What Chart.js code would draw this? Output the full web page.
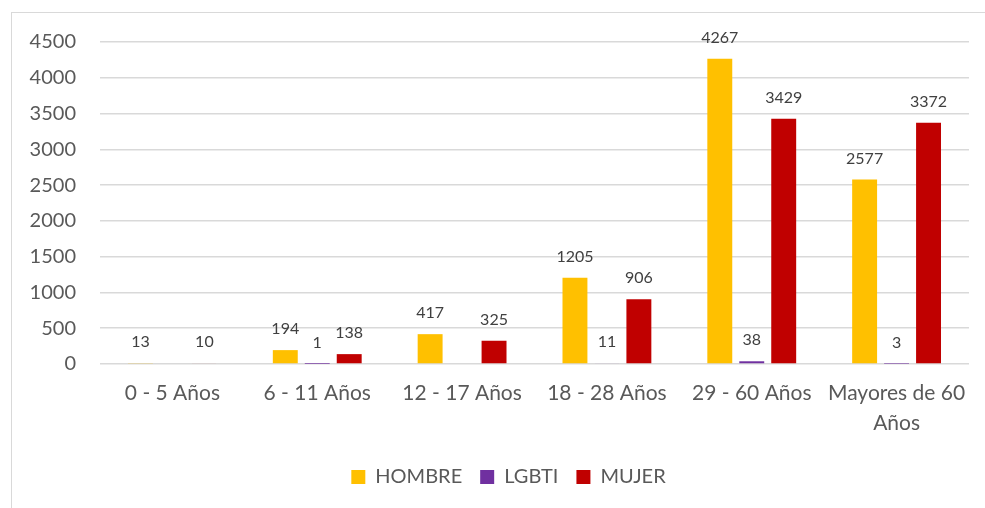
<!DOCTYPE html>
<html lang="es">
<head>
<meta charset="utf-8">
<title>Grupos de edad</title>
<script src="https://cdn.jsdelivr.net/npm/chart.js@4"></script>
<style>
body { margin: 0; background: #fff; }
#frame { position: absolute; left: 11px; top: 12px; width: 1000px; height: 520px; border: 1px solid #d9d9d9; }
#wrap { position: absolute; left: 0; top: 0; width: 985px; height: 508px; }
</style>
</head>
<body>
<div id="frame"></div>
<div id="wrap"><canvas id="chart"></canvas></div>
<script>
const categories = ['0 - 5 Años', '6 - 11 Años', '12 - 17 Años', '18 - 28 Años', '29 - 60 Años', ['Mayores de 60', 'Años']];
const hombre = [13, 194, 417, 1205, 4267, 2577];
const lgbti = [null, 1, null, 11, 38, 3];
const mujer = [10, 138, 325, 906, 3429, 3372];
const yTicks = [0, 500, 1000, 1500, 2000, 2500, 3000, 3500, 4000, 4500];

const FONT = 'Lato, "Open Sans", sans-serif';

// draw the value above each bar, Excel style
const valueLabels = {
  id: 'valueLabels',
  afterDatasetsDraw(chart) {
    const ctx = chart.ctx;
    ctx.save();
    ctx.font = '16px ' + FONT;
    ctx.fillStyle = '#404040';
    ctx.textAlign = 'center';
    ctx.textBaseline = 'bottom';
    chart.data.datasets.forEach((ds, di) => {
      const meta = chart.getDatasetMeta(di);
      meta.data.forEach((bar, i) => {
        const v = ds.data[i];
        if (v == null) return;
        ctx.fillText(String(v), bar.x, bar.y - 13);
      });
    });
    ctx.restore();
  }
};

// the legend sits a bit right of the canvas centre
const legendShift = {
  id: 'legendShift',
  afterLayout(chart) {
    if (!chart.legend) return;
    chart.legend.left += 24;
    chart.legend.right += 24;
  }
};

new Chart(document.getElementById('chart'), {
  type: 'bar',
  data: {
    labels: categories,
    datasets: [
      { label: 'HOMBRE', data: hombre, backgroundColor: '#FFC000' },
      { label: 'LGBTI', data: lgbti, backgroundColor: '#7030A0' },
      { label: 'MUJER', data: mujer, backgroundColor: '#C00000' }
    ]
  },
  options: {
    responsive: true,
    maintainAspectRatio: false,
    animation: false,
    categoryPercentage: 0.662,
    barPercentage: 0.78,
    layout: { padding: { top: 42, right: 16, bottom: 11, left: 0 } },
    plugins: {
      legend: {
        position: 'bottom',
        labels: {
          boxWidth: 14, boxHeight: 14, padding: 18,
          color: '#595959',
          font: { family: FONT, size: 20 }
        }
      },
      tooltip: { enabled: false }
    },
    scales: {
      x: {
        afterFit(scale) { scale.height = 85; },
        grid: { display: false, drawTicks: false },
        border: { display: false },
        ticks: {
          color: '#595959', padding: 14,
          font: { family: FONT, size: 21, lineHeight: 1.45 },
          maxRotation: 0, autoSkip: false
        }
      },
      y: {
        min: 0, max: 4500,
        afterBuildTicks(scale) { scale.ticks = yTicks.map(v => ({ value: v })); },
        afterFit(scale) { scale.width = 100; },
        grid: { color: '#d9d9d9', lineWidth: 1.5, drawTicks: false },
        border: { display: false },
        ticks: {
          color: '#595959', padding: 24,
          font: { family: FONT, size: 20 },
          callback: v => String(v)
        }
      }
    }
  },
  plugins: [valueLabels, legendShift]
});
</script>
</body>
</html>
